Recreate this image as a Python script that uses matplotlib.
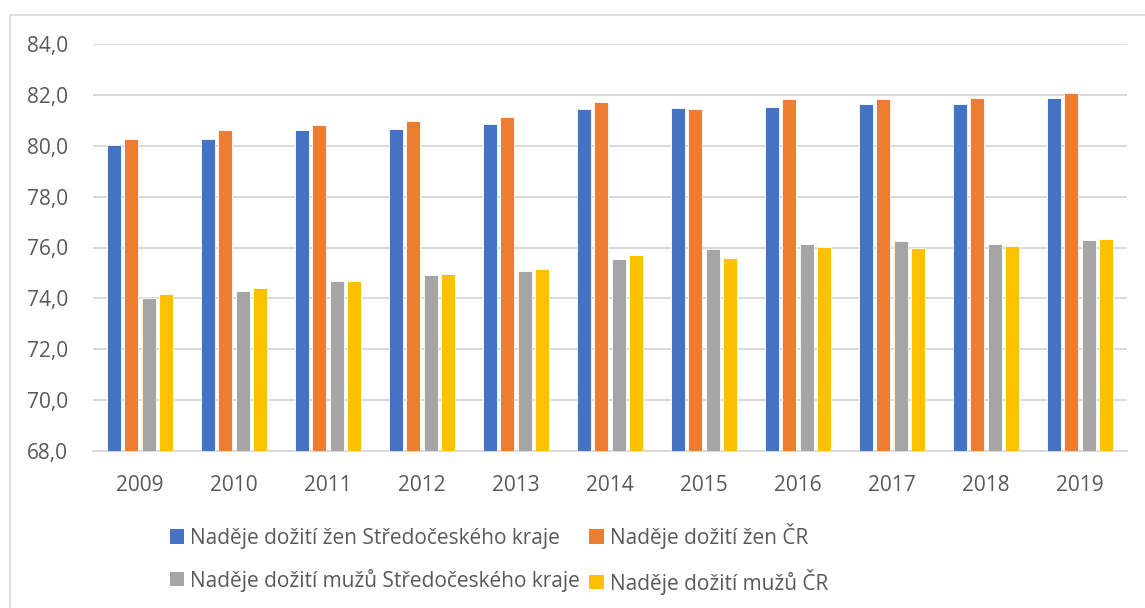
import numpy as np
import matplotlib.pyplot as plt
from matplotlib.patches import Rectangle, Patch
from matplotlib.ticker import FuncFormatter

plt.rcParams['font.family'] = ['Open Sans', 'DejaVu Sans']

# data
years = ["2009", "2010", "2011", "2012", "2013", "2014", "2015", "2016", "2017", "2018", "2019"]
zeny_kraj = [80.04, 80.28, 80.61, 80.64, 80.85, 81.44, 81.48, 81.51, 81.63, 81.63, 81.86]
zeny_cr = [80.28, 80.62, 80.81, 80.97, 81.14, 81.72, 81.43, 81.82, 81.84, 81.88, 82.07]
muzi_kraj = [74.00, 74.30, 74.68, 74.92, 75.07, 75.55, 75.95, 76.14, 76.27, 76.14, 76.29]
muzi_cr = [74.16, 74.39, 74.69, 74.94, 75.14, 75.70, 75.60, 76.02, 76.00, 76.07, 76.32]

labels = ["Naděje dožití žen Středočeského kraje", "Naděje dožití žen ČR",
          "Naděje dožití mužů Středočeského kraje", "Naděje dožití mužů ČR"]
colors = ["#4472C4", "#ED7D31", "#A5A5A5", "#FFC000"]
series = [zeny_kraj, zeny_cr, muzi_kraj, muzi_cr]

text_col = "#595959"
grid_col = "#D9D9D9"

fig = plt.figure(figsize=(11.45, 6.08), dpi=100)
W, H = 1145, 608
ax = fig.add_axes([93 / W, 1 - 451 / H, (1127 - 93) / W, (451 - 44) / H])

x = np.arange(len(years))
step = 0.184
for i, (vals, col) in enumerate(zip(series, colors)):
    ax.bar(x + (i - 1.5) * step, np.array(vals) - 68, bottom=68, width=0.148,
           color=col, edgecolor="white", linewidth=0.6, zorder=3)

ax.set_xlim(-0.5, len(years) - 0.5)
ax.set_ylim(68, 84)
ax.set_yticks(np.arange(68, 84.1, 2))
ax.yaxis.set_major_formatter(FuncFormatter(lambda v, p: f"{v:.1f}".replace(".", ",")))
ax.set_xticks(x)
ax.set_xticklabels(years)

ax.grid(axis="y", color=grid_col, linewidth=1.4, zorder=0)
for s in ["top", "right", "left"]:
    ax.spines[s].set_visible(False)
ax.spines["bottom"].set_color(grid_col)
ax.spines["bottom"].set_linewidth(1.4)
ax.tick_params(axis="both", length=0, labelsize=15, labelcolor=text_col)
ax.tick_params(axis="y", pad=18)
ax.tick_params(axis="x", pad=17)

# outer chart border (left and top visible in reference)
fig.add_artist(Rectangle((10.5 / W, -0.1), 1.2, 1 - 15 / H + 0.1, transform=fig.transFigure,
                         fill=False, edgecolor=grid_col, linewidth=1.2))

handles = [Patch(facecolor=c, edgecolor="none") for c in colors]
order = [0, 2, 1, 3]
fig.legend([handles[k] for k in order], [labels[k] for k in order], ncol=2,
           loc="upper left", bbox_to_anchor=(151 / W, 1 - 504 / H),
           frameon=False, fontsize=15, labelcolor=text_col,
           handlelength=0.68, handleheight=0.68, handletextpad=0.3,
           columnspacing=0.45, labelspacing=0.95)

fig.savefig("out.png", dpi=100)
